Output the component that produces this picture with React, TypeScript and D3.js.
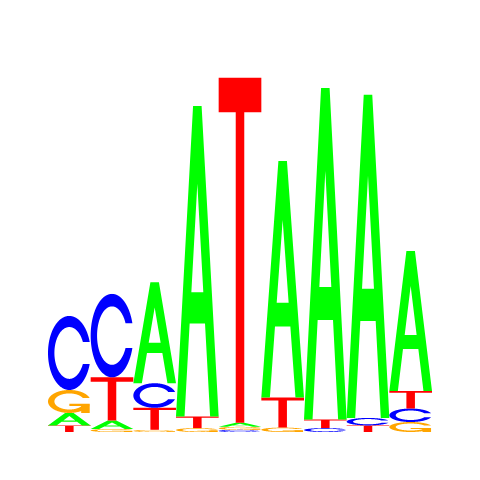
import React from "react";
import * as d3 from "d3";

// information content (bits) per position
const positions = ["1", "2", "3", "4", "5", "6", "7", "8", "9"];
const aBits = [0.07, 0.048, 0.567, 1.744, 0.023, 1.329, 1.862, 1.815, 0.787];
const cBits = [0.416, 0.469, 0.138, 0, 0.012, 0, 0.022, 0.042, 0.076];
const gBits = [0.129, 0.017, 0.012, 0.022, 0.017, 0.025, 0, 0, 0.056];
const tBits = [0.037, 0.242, 0.124, 0.065, 1.938, 0.169, 0.048, 0.037, 0.098];

const letters = ["A", "C", "G", "T"];
const colors: Record<string, string> = {
  A: "#00ff00",
  C: "#0000ff",
  G: "#ffa500",
  T: "#ff0000",
};

const width = 480,
  height = 480;
const margin = { top: 76, right: 48, bottom: 48, left: 48 };

type Pt = [number, number];

// letter outlines in a unit box, y pointing up (seqLogo style polygons)
function arcRing(): Pt[] {
  const n = 100;
  const a1 = d3.range(n).map((i) => 0.3 + Math.PI / 2 + ((Math.PI / 2 - 0.3) * i) / (n - 1));
  const a2 = d3.range(n).map((i) => Math.PI + ((Math.PI / 2) * i) / (n - 1));
  const outer: Pt[] = [...a1, ...a2].map((a) => [0.5 + 0.5 * Math.sin(a), 0.5 + 0.5 * Math.cos(a)]);
  const hMax = d3.max(a1, (a) => 0.5 + 0.5 * Math.cos(a))!;
  let inner1: Pt[] = a1
    .map((a) => [0.5 + 0.35 * Math.sin(a), 0.5 + 0.35 * Math.cos(a)] as Pt)
    .filter((p) => p[1] <= hMax);
  inner1[0] = [inner1[0][0], hMax];
  const inner2: Pt[] = a2.map((a) => [0.5 + 0.35 * Math.sin(a), 0.5 + 0.35 * Math.cos(a)]);
  const inner = [...inner1, ...inner2];
  const fullOuter = [...outer, ...outer.slice().reverse().map((p) => [p[0], 1 - p[1]] as Pt)];
  const fullInner = [...inner, ...inner.slice().reverse().map((p) => [p[0], 1 - p[1]] as Pt)];
  return [...fullOuter, ...fullInner.reverse()];
}

const ring = arcRing();
const gRight = d3.max(
  d3.range(100).map((i) => 0.3 + Math.PI / 2 + ((Math.PI / 2 - 0.3) * i) / 99),
  (a) => 0.5 + 0.5 * Math.sin(a)
)!;

const shapes: Record<string, { pts: Pt[][]; evenodd?: boolean }> = {
  A: {
    pts: [
      [[0, 0], [0.4, 1], [0.6, 1], [1, 0], [0.8, 0], [0.68, 0.3], [0.32, 0.3], [0.2, 0]],
      [[0.36, 0.4], [0.5, 0.75], [0.64, 0.4]],
    ],
    evenodd: true,
  },
  C: { pts: [ring] },
  G: {
    pts: [
      ring,
      [[gRight, 0.4], [0.5, 0.4], [0.5, 0.3], [gRight - 0.2, 0.3], [gRight - 0.2, 0], [gRight, 0]],
    ],
  },
  T: { pts: [[[0, 1], [1, 1], [1, 0.9], [0.6, 0.9], [0.6, 0], [0.4, 0], [0.4, 0.9], [0, 0.9]]] },
};

export default function App() {
  const x = d3
    .scaleBand()
    .domain(positions)
    .range([margin.left, width - margin.right])
    .padding(0);

  const y = d3
    .scaleLinear()
    .domain([0, 2])
    .range([height - margin.bottom, margin.top]);

  const bits: Record<string, number[]> = { A: aBits, C: cBits, G: gBits, T: tBits };

  const marks: { key: string; ch: string; x0: number; yb: number; w: number; h: number }[] = [];
  positions.forEach((p, i) => {
    const col = letters
      .map((ch) => ({ ch, v: bits[ch][i] }))
      .filter((d) => d.v > 0)
      .sort((a, b) => a.v - b.v);
    let acc = 0;
    col.forEach((d) => {
      const yb = y(acc);
      const yt = y(acc + d.v);
      acc += d.v;
      marks.push({ key: p + d.ch, ch: d.ch, x0: x(p)!, yb, w: x.bandwidth(), h: yb - yt });
    });
  });

  return (
    <svg
      width={width}
      height={height}
      style={{ position: "absolute", left: 0, top: 0, background: "#fff" }}
    >
      {marks.map((m) => {
        const shape = shapes[m.ch];
        const line = d3
          .line<Pt>()
          .x((d) => m.x0 + m.w * d[0])
          .y((d) => m.yb - m.h * d[1])
          .curve(d3.curveLinearClosed);
        if (shape.evenodd) {
          return (
            <path
              key={m.key}
              d={shape.pts.map((p) => line(p)).join("")}
              fill={colors[m.ch]}
              fillRule="evenodd"
            />
          );
        }
        return (
          <g key={m.key} fill={colors[m.ch]}>
            {shape.pts.map((p, j) => (
              <path key={j} d={line(p)!} />
            ))}
          </g>
        );
      })}
    </svg>
  );
}
